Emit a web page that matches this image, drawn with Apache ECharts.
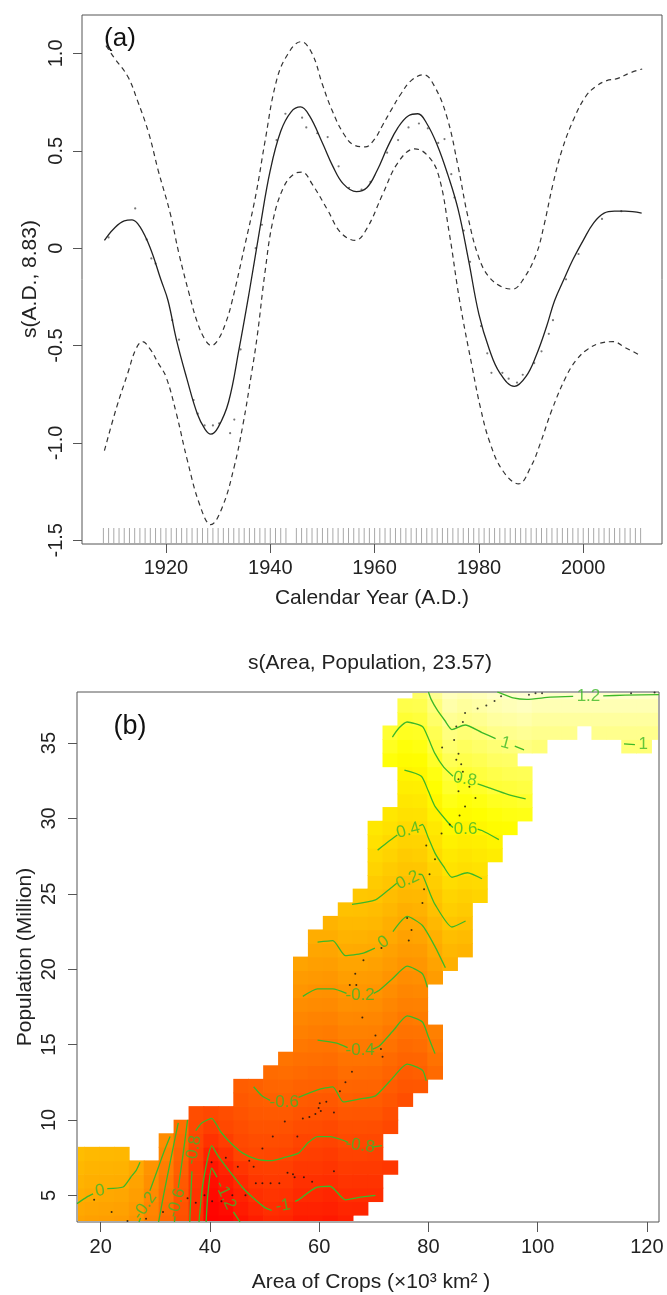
<!DOCTYPE html>
<html><head><meta charset="utf-8">
<script src="https://cdn.jsdelivr.net/npm/echarts@6/dist/echarts.min.js"></script>
<style>html,body{margin:0;padding:0;background:#fff}#c{width:667px;height:1295px}</style>
</head><body><div id="c"></div><script>
// ---------- Panel (a) data ----------
const aXTicks = [1920, 1940, 1960, 1980, 2000];
const aYTicks = [-1.5, -1.0, -0.5, 0, 0.5, 1.0];
const fitLine = [[1908.2,0.04],[1910,0.10],[1912,0.14],[1913.5,0.145],[1915,0.11],[1917,0.00],[1919,-0.16],[1920.4,-0.27],[1922,-0.47],[1924,-0.67],[1926,-0.85],[1927.5,-0.93],[1928.6,-0.955],[1930,-0.92],[1932,-0.79],[1934,-0.52],[1936,-0.22],[1938,0.10],[1940,0.40],[1942,0.60],[1944,0.70],[1945.8,0.725],[1947.5,0.68],[1950,0.54],[1952,0.42],[1954,0.33],[1956.5,0.29],[1958.5,0.31],[1960.5,0.40],[1962.5,0.52],[1964.5,0.62],[1966.5,0.68],[1968.3,0.69],[1970,0.64],[1972,0.53],[1974,0.38],[1976,0.20],[1978,-0.06],[1980,-0.34],[1982,-0.52],[1984,-0.64],[1986.8,-0.71],[1989,-0.66],[1991,-0.55],[1993,-0.40],[1994.5,-0.27],[1996.3,-0.16],[1998,-0.06],[2000,0.04],[2002,0.13],[2004,0.18],[2006,0.19],[2008,0.19],[2011.2,0.18]];
const upperBand = [[1908.5,1.04],[1910,0.98],[1912.7,0.88],[1914.5,0.76],[1916.7,0.59],[1918.5,0.40],[1920.8,0.18],[1922.5,-0.03],[1924.5,-0.24],[1926,-0.38],[1927.5,-0.47],[1928.7,-0.50],[1930,-0.47],[1931.5,-0.38],[1932.7,-0.27],[1935,0.00],[1937.2,0.27],[1939,0.55],[1941,0.84],[1943,0.98],[1945.9,1.06],[1948,1.00],[1950,0.84],[1951.8,0.71],[1954,0.59],[1956,0.53],[1958.2,0.52],[1960,0.56],[1961.5,0.63],[1963.2,0.71],[1965,0.79],[1967,0.86],[1969.4,0.89],[1971.5,0.83],[1973.9,0.67],[1976,0.42],[1977.9,0.16],[1980,-0.05],[1982,-0.15],[1984.5,-0.20],[1986.5,-0.21],[1988.5,-0.16],[1991,-0.03],[1992.5,0.12],[1994.2,0.33],[1996,0.51],[1998.3,0.67],[2000.5,0.78],[2002.4,0.83],[2004.5,0.86],[2006.5,0.87],[2009,0.90],[2011.3,0.92]];
const lowerBand = [[1908.2,-1.04],[1910.5,-0.82],[1912.7,-0.64],[1914.2,-0.52],[1915.5,-0.48],[1917,-0.52],[1918.5,-0.59],[1920,-0.66],[1922,-0.85],[1924.1,-1.09],[1926.5,-1.32],[1928.6,-1.42],[1930.8,-1.33],[1933.1,-1.12],[1934.8,-0.90],[1936.3,-0.66],[1937.5,-0.45],[1939,-0.12],[1940.5,0.14],[1942.5,0.31],[1944.5,0.38],[1946.1,0.39],[1948,0.33],[1951,0.195],[1953.5,0.08],[1956.3,0.04],[1958.5,0.10],[1961.6,0.28],[1964.5,0.44],[1967.7,0.51],[1970,0.48],[1972.2,0.38],[1974.3,0.08],[1976.3,-0.27],[1978.7,-0.61],[1980.3,-0.82],[1982,-0.99],[1984.5,-1.14],[1987.6,-1.21],[1990,-1.12],[1991.8,-1.00],[1994,-0.83],[1996.7,-0.66],[1998.8,-0.57],[2000.8,-0.52],[2003,-0.49],[2005.7,-0.48],[2008,-0.51],[2010.9,-0.55]];
const residuals = [[1909.0,0.055],[1914.1,0.204],[1916.3,0.045],[1917.2,-0.053],[1918.0,-0.079],[1921.2,-0.37],[1922.5,-0.47],[1925.3,-0.78],[1926.1,-0.85],[1927.4,-0.91],[1929.0,-0.91],[1930.2,-0.90],[1932.3,-0.95],[1933.1,-0.88],[1934.3,-0.52],[1937.2,0.0],[1938.4,0.12],[1941.2,0.555],[1942.9,0.69],[1946.1,0.67],[1946.9,0.62],[1949.0,0.59],[1951.0,0.57],[1953.1,0.42],[1955.1,0.31],[1957.5,0.30],[1959.2,0.34],[1962.4,0.49],[1964.5,0.555],[1966.5,0.62],[1968.5,0.64],[1970.2,0.615],[1972.2,0.54],[1973.4,0.56],[1974.7,0.38],[1975.3,0.26],[1977.1,0.09],[1978.3,-0.07],[1980.4,-0.40],[1981.6,-0.54],[1982.4,-0.64],[1984.5,-0.64],[1985.7,-0.67],[1987.3,-0.69],[1988.4,-0.65],[1990.6,-0.59],[1992.0,-0.53],[1993.4,-0.44],[1994.2,-0.37],[1996.7,-0.16],[1999.1,-0.03],[2003.6,0.15],[2007.3,0.19]];
const rugYears = [1908,1909,1910,1911,1912,1913,1914,1915,1916,1917,1918,1919,1920,1921,1922,1923,1924,1925,1926,1927,1928,1929,1930,1931,1932,1933,1934,1935,1936,1937,1938,1939,1940,1941,1942,1943,1945,1946,1947,1948,1949,1950,1951,1952,1953,1954,1955,1956,1957,1958,1959,1960,1961,1962,1963,1964,1965,1966,1967,1968,1969,1970,1971,1972,1973,1974,1975,1976,1977,1978,1979,1980,1981,1982,1983,1984,1985,1986,1987,1988,1989,1990,1991,1992,1993,1994,1995,1996,1997,1998,1999,2000,2001,2002,2003,2004,2005,2006,2007,2008,2009,2010,2011];

// ---------- Panel (b) data ----------
const bXTicks = [20, 40, 60, 80, 100, 120];
const bYTicks = [5, 10, 15, 20, 25, 30, 35];
const gridX = [15.66,18.39,21.12,23.86,26.59,29.32,32.05,34.78,37.52,40.25,42.98,45.71,48.44,51.18,53.91,56.64,59.37,62.10,64.84,67.57,70.30,73.03,75.76,78.50,81.23,83.96,86.69,89.42,92.16,94.89,97.62,100.35,103.08,105.82,108.55,111.28,114.01,116.74,119.48,122.21];
const gridY = [3.23,4.13,5.03,5.93,6.84,7.74,8.64,9.54,10.44,11.34,12.25,13.15,14.05,14.95,15.85,16.75,17.65,18.56,19.46,20.36,21.26,22.16,23.06,23.96,24.87,25.77,26.67,27.57,28.47,29.37,30.28,31.18,32.08,32.98,33.88,34.79,35.69,36.59,37.49,38.39];
// [row, first column, values...] ; null = no cell
const heatRows = [
[0,0,[-0.06,-0.08,-0.10,-0.11,-0.18,-0.33,-0.52,-0.72,-1.00,-1.33,-1.31,-1.20,-1.12,-1.04,-1.06,-1.14,-1.13,-1.16,-1.11]],
[1,0,[-0.02,-0.04,-0.06,-0.07,-0.14,-0.30,-0.49,-0.70,-0.98,-1.31,-1.26,-1.14,-1.05,-0.99,-1.01,-1.08,-1.08,-1.10,-1.05,-1.06]],
[2,0,[0.03,0.00,-0.02,-0.03,-0.10,-0.26,-0.45,-0.67,-0.95,-1.28,-1.20,-1.08,-0.98,-0.94,-0.96,-1.02,-1.02,-1.05,-1.00,-1.00,-1.00]],
[3,0,[0.07,0.04,0.03,0.02,-0.06,-0.22,-0.41,-0.64,-0.92,-1.24,-1.14,-1.02,-0.92,-0.89,-0.90,-0.97,-0.97,-0.99,-0.94,-0.95,-0.95]],
[4,0,[0.11,0.08,0.07,0.06,-0.01,-0.18,-0.36,-0.60,-0.88,-1.18,-1.07,-0.93,-0.85,-0.84,-0.85,-0.91,-0.91,-0.93,-0.88,-0.89,-0.89,-0.92]],
[5,0,[0.15,0.12,0.11,0.10,null,null,-0.30,-0.56,-0.84,-1.08,-0.97,-0.81,-0.78,-0.79,-0.80,-0.85,-0.86,-0.88,-0.83,-0.83,-0.84]],
[6,6,[-0.24,-0.52,-0.80,-0.96,-0.87,-0.77,-0.74,-0.74,-0.75,-0.80,-0.80,-0.82,-0.77,-0.78,-0.78]],
[7,7,[-0.48,-0.77,-0.86,-0.78,-0.73,-0.69,-0.69,-0.70,-0.74,-0.75,-0.77,-0.72,-0.72,-0.73,-0.78]],
[8,8,[-0.74,-0.78,-0.74,-0.69,-0.65,-0.64,-0.64,-0.68,-0.69,-0.71,-0.66,-0.67,-0.67,-0.73]],
[9,11,[-0.65,-0.61,-0.60,-0.59,-0.63,-0.64,-0.65,-0.60,-0.61,-0.62,-0.67,-0.73]],
[10,11,[-0.61,-0.59,-0.55,-0.54,-0.57,-0.58,-0.60,-0.55,-0.56,-0.56,-0.62,-0.67,-0.66]],
[11,13,[-0.50,-0.49,-0.51,-0.53,-0.54,-0.49,-0.50,-0.51,-0.56,-0.62,-0.60,-0.51]],
[12,14,[-0.43,-0.46,-0.47,-0.49,-0.44,-0.44,-0.45,-0.51,-0.56,-0.55,-0.45]],
[13,15,[-0.40,-0.42,-0.43,-0.38,-0.39,-0.40,-0.45,-0.51,-0.49,-0.39]],
[14,15,[-0.34,-0.36,-0.38,-0.33,-0.33,-0.34,-0.40,-0.45,-0.44,-0.34]],
[15,15,[-0.29,-0.31,-0.32,-0.27,-0.28,-0.29,-0.34,-0.40,-0.38]],
[16,15,[-0.23,-0.25,-0.26,-0.21,-0.22,-0.23,-0.29,-0.34,-0.33]],
[17,15,[-0.17,-0.20,-0.21,-0.16,-0.16,-0.18,-0.23,-0.29,-0.27]],
[18,15,[-0.12,-0.14,-0.15,-0.10,-0.11,-0.12,-0.18,-0.23,-0.22,-0.11]],
[19,15,[-0.06,-0.09,-0.10,-0.05,-0.05,-0.07,-0.12,-0.18,-0.16,-0.06,0.05]],
[20,16,[-0.03,-0.04,0.01,0.00,-0.01,-0.07,-0.12,-0.11,0.00,0.10,0.08]],
[21,16,[0.02,0.02,0.07,0.06,0.04,-0.01,-0.07,-0.05,0.05,0.16,0.13]],
[22,17,[0.07,0.12,0.12,0.10,0.04,-0.01,0.00,0.11,0.22,0.19]],
[23,18,[0.18,0.17,0.15,0.10,0.04,0.06,0.17,0.28,0.25]],
[24,19,[0.23,0.21,0.15,0.10,0.11,0.22,0.33,0.30,0.33]],
[25,20,[0.26,0.21,0.15,0.17,0.28,0.39,0.36,0.38]],
[26,20,[0.32,0.26,0.21,0.22,0.33,0.45,0.42,0.44]],
[27,20,[0.37,0.32,0.26,0.28,0.39,0.50,0.47,0.50,0.53]],
[28,20,[0.43,0.37,0.32,0.33,0.45,0.56,0.53,0.55,0.59]],
[29,20,[0.48,0.43,0.37,0.39,0.50,0.62,0.58,0.61,0.65,0.66]],
[30,21,[0.48,0.43,0.44,0.56,0.67,0.64,0.67,0.70,0.72,0.73]],
[31,22,[0.48,0.50,0.61,0.73,0.70,0.72,0.76,0.77,0.79]],
[32,22,[0.54,0.55,0.67,0.79,0.75,0.78,0.82,0.83,0.85]],
[33,22,[0.59,0.61,0.72,0.84,0.81,0.84,0.87,0.89,0.90]],
[34,21,[0.70,0.65,0.66,0.78,0.90,0.87,0.89,0.93,0.94]],
[35,21,[0.76,0.70,0.72,0.84,0.96,0.92,0.95,0.98,1.00,1.02,0.99,null,null,null,null,null,0.99,0.99]],
[36,21,[0.81,0.76,0.77,0.89,1.01,0.98,1.00,1.04,1.05,1.07,1.05,1.05,1.05,null,1.05,1.05,1.05,1.05,1.05]],
[37,22,[0.81,0.83,0.95,1.07,1.04,1.06,1.10,1.11,1.13,1.10,1.10,1.10,1.10,1.10,1.10,1.10,1.10,1.10]],
[38,22,[0.87,0.88,1.00,1.13,1.09,1.12,1.15,1.17,1.19,1.16,1.16,1.16,1.16,1.16,1.16,1.16,1.16,1.16]],
[39,23,[0.94,1.06,1.18,1.15,1.17,1.21,1.22,1.24,1.22,1.22,1.22,1.22,1.22,1.22,1.22,1.22,1.22]]
];
const heatColors = ['#FF0000','#FF2B00','#FF5500','#FF8000','#FFAA00','#FFD500','#FFFF00','#FFFF80','#FFFFF8'];
const contourLines = [
[[92.6,38.39],[93.3,38.3],[95.5,38.0],[98.0,37.9],[102.3,38.05],[106.5,38.1]],
[[112.0,38.13],[116,38.18],[122.21,38.22]],
[[80.0,38.39],[80.5,37.9],[81.6,37.2],[83.0,36.5],[84.3,35.9],[86.7,36.2],[89.8,35.7],[92.3,35.3]],
[[95.8,34.8],[97.5,34.55]],
[[115.8,34.95],[117.8,34.9]],
[[73.4,35.4],[74.6,36.0],[76.1,36.4],[78.9,36.1],[80.0,35.3],[81.2,34.3],[82.8,33.4],[84.5,32.8]],
[[89.0,32.3],[90.6,32.1],[94.5,31.6],[97.8,31.3]],
[[75.6,33.2],[78.7,32.8],[80.0,31.8],[81.2,30.8],[83.9,29.6],[84.5,29.4]],
[[89.0,29.3],[89.8,29.2],[92.9,28.6]],
[[70.7,27.9],[72.8,28.5],[74.3,28.9]],
[[78.3,29.5],[78.9,29.6],[80.0,28.7],[81.2,27.7],[82.8,26.8],[84.3,26.1],[87.1,26.4],[89.8,26.0]],
[[66.0,24.3],[70.3,24.6],[72.5,25.2],[74.2,25.7]],
[[78.2,26.3],[78.9,26.25],[80.1,25.2],[81.2,24.3],[84.3,22.8],[86.8,23.2]],
[[59.7,21.8],[62.5,21.9],[64.8,20.9],[67.9,21.05],[70.2,21.4]],
[[73.5,22.5],[76.1,23.5],[78.9,22.9],[81.2,21.5],[83.1,20.1]],
[[57.0,18.2],[59.7,18.7],[62.5,18.7],[65.0,18.4]],
[[70.0,18.4],[71.0,18.6],[73.5,19.4],[76.1,20.2],[78.9,19.7],[79.8,18.8]],
[[59.7,15.3],[63.2,15.1],[65.2,14.8]],
[[69.8,14.7],[71.0,14.9],[73.5,15.9],[76.1,16.9],[78.9,16.5],[80.0,15.5],[81.2,14.4]],
[[48.0,12.2],[49.5,11.6],[51.0,11.3]],
[[56.2,11.5],[59.7,12.0],[62.5,12.2],[64.4,11.2],[67.5,11.4],[70.3,11.6],[73.0,12.6],[76.1,13.7],[78.9,13.3],[79.6,12.6]],
[[36.3,3.23],[36.5,5.0],[36.7,6.6]],
[[37.4,9.3],[38.5,9.8],[40.3,10.1],[42.0,9.2],[44.0,8.4],[46.0,7.8],[48.5,7.4],[51.1,7.3],[53.5,7.5],[56.2,7.8],[58.0,8.5],[59.7,8.9],[62.0,8.9],[64.8,8.6],[65.3,8.5]],
[[69.7,8.2],[71.5,8.3]],
[[38.0,3.23],[38.6,5.5],[39.5,7.3],[40.3,8.3],[41.5,7.6],[44.0,6.4],[46.0,5.5],[48.0,4.8],[50.0,4.2],[51.3,4.0]],
[[55.6,4.6],[56.2,4.7],[59.3,5.5],[62.0,5.6],[64.8,4.7],[67.9,4.9],[70.3,5.0]],
[[39.3,3.23],[39.6,5.0],[40.3,6.8],[41.3,6.2]],
[[44.3,3.9],[45.5,3.23]],
[[33.5,3.23],[33.6,3.6]],
[[34.2,5.5],[34.8,7.0],[35.4,8.6],[35.9,10.0]],
[[30.6,3.23],[31.5,5.0],[32.5,6.8],[33.5,8.6],[34.2,9.8]],
[[27.0,3.23],[27.3,3.5]],
[[29.0,5.3],[30.5,6.8],[31.6,7.9],[32.7,8.9]],
[[15.66,4.45],[17.5,4.9],[18.6,5.1]],
[[21.2,5.45],[24.1,5.55],[25.5,6.2],[26.5,6.66],[27.2,7.2]]
];
// [text, x, y, rotation in degrees]
const contourLabels = [
['1.2',109.3,38.1,0],['1',94.1,35.0,-15],['1',119.3,34.9,0],['0.8',86.7,32.6,-10],['0.6',86.8,29.3,0],
['0.4',76.3,29.2,15],['0.2',76.2,25.9,25],['0',71.8,21.8,35],['-0.2',67.5,18.3,0],['-0.4',67.5,14.6,0],
['-0.6',53.6,11.2,0],['-0.8',67.5,8.3,-8],['-1',53.4,4.3,10],['-1.2',42.8,5.0,-65],['-0.8',37.0,8.0,80],
['-0.6',33.9,4.5,75],['-0.2',28.1,4.3,55],['0',19.9,5.3,10]
];
const bPoints = [[18.8,4.7],[22.0,3.9],[24.9,3.3],[28.3,3.45],[31.4,3.9],[35.9,4.8],[37.4,4.5],[39.0,5.0],[40.3,7.2],[40.4,4.6],[42.1,4.6],[42.9,7.5],[44.1,5.0],[45.1,6.9],[46.5,5.0],[47.2,7.3],[48.0,6.9],[48.4,5.8],[49.6,5.8],[49.6,8.1],[51.1,5.8],[51.5,8.9],[52.7,5.8],[53.7,9.9],[54.2,6.5],[55.2,6.4],[55.5,6.2],[56.0,8.9],[57.0,10.1],[57.2,6.2],[58.2,10.2],[58.7,5.9],[59.3,10.4],[59.9,10.8],[60.1,11.1],[60.3,10.6],[61.3,11.2],[62.7,10.5],[62.7,6.6],[63.8,11.9],[64.8,12.5],[66.0,13.2],[67.9,16.8],[70.3,15.6],[71.3,14.7],[71.6,14.2],[65.6,18.95],[66.8,18.95],[66.6,19.7],[68.1,20.6],[71.4,21.4],[76.4,21.9],[76.9,22.6],[76.1,23.4],[78.9,24.4],[79.2,25.3],[80.2,26.3],[81.2,27.3],[79.6,28.2],[82.4,29.0],[83.9,29.6],[85.7,30.2],[86.7,30.8],[88.6,31.35],[85.5,31.8],[87.5,32.1],[85.5,32.6],[86.3,33.1],[86.0,33.6],[85.1,33.9],[85.5,34.3],[82.5,34.7],[84.7,35.2],[85.1,36.1],[86.3,36.4],[86.7,37.0],[89.0,37.3],[90.6,37.5],[92.1,37.8],[93.3,38.1],[98.4,38.2],[99.6,38.3],[100.8,38.3],[117.1,38.3],[121.4,38.35]];

// ---------- build ----------
const FONT = 'Liberation Sans, Arial, sans-serif';
const heatData = [];
heatRows.forEach(([r, c0, vals]) => {
  vals.forEach((v, k) => { if (v !== null) heatData.push([gridX[c0 + k], gridY[r], v]); });
});
const HX = (gridX[1] - gridX[0]) / 2, HY = (gridY[1] - gridY[0]) / 2;
const axisCol = '#555';
function fmtA(v){ return v === 0 ? '0' : v.toFixed(1); }
function fmtPlain(v){ return String(v); }

const series = [];
// panel a
series.push({type:'line', xAxisIndex:0, yAxisIndex:0, data: upperBand, smooth:0.4, showSymbol:false, silent:true,
  lineStyle:{color:'#333', width:1.2, type:[5,4]}});
series.push({type:'line', xAxisIndex:0, yAxisIndex:0, data: lowerBand, smooth:0.4, showSymbol:false, silent:true,
  lineStyle:{color:'#333', width:1.2, type:[5,4]}});
series.push({type:'line', xAxisIndex:0, yAxisIndex:0, data: fitLine, smooth:0.4, showSymbol:false, silent:true,
  lineStyle:{color:'#222', width:1.3}});
series.push({type:'scatter', xAxisIndex:0, yAxisIndex:0, data: residuals, symbolSize:2.2, silent:true,
  itemStyle:{color:'#555'}});
series.push({type:'custom', xAxisIndex:0, yAxisIndex:0, data: rugYears.map(y => [y]), silent:true,
  encode:{x:0},
  renderItem: function(params, api){
    const p = api.coord([api.value(0), -1.519]);
    return {type:'line', shape:{x1:p[0], y1:p[1], x2:p[0], y2:p[1]-16}, style:{stroke:'#a8a8a8', lineWidth:1}};
  }});
// panel b heat
const heatIndex = series.length;
series.push({type:'custom', xAxisIndex:1, yAxisIndex:1, data: heatData, silent:true,
  encode:{x:0, y:1},
  renderItem: function(params, api){
    const x = api.value(0), y = api.value(1);
    const p1 = api.coord([x - HX, y + HY]);
    const p2 = api.coord([x + HX, y - HY]);
    const cs = params.coordSys;
    const rect = echarts.graphic.clipRectByRect(
      {x: p1[0] - 0.4, y: p1[1] - 0.4, width: p2[0] - p1[0] + 0.8, height: p2[1] - p1[1] + 0.8},
      {x: cs.x + 1, y: cs.y + 1, width: cs.width - 2, height: cs.height - 2});
    return rect && {type:'rect', shape: rect, style:{fill: api.visual('color')}};
  }});
contourLines.forEach(seg => {
  series.push({type:'line', xAxisIndex:1, yAxisIndex:1, data: seg, showSymbol:false, silent:true, smooth:0.2,
    lineStyle:{color:'#3cb828', width:1.3}, z:3});
});
series.push({type:'scatter', xAxisIndex:1, yAxisIndex:1, silent:true, symbolSize:0, z:4,
  data: contourLabels.map(l => ({name:l[0], value:[l[1], l[2]], label:{rotate:l[3]}})),
  label:{show:true, position:'inside', formatter:'{b}', color:'#3cb828', fontSize:17, fontFamily:FONT}});
series.push({type:'scatter', xAxisIndex:1, yAxisIndex:1, data: bPoints, symbolSize:2, silent:true, z:5,
  itemStyle:{color:'#111'}});

const option = {
  animation:false,
  backgroundColor:'#fff',
  grid:[
    {left:82, top:15, width:580, height:529, show:true, borderColor:axisCol, borderWidth:1, backgroundColor:'transparent'},
    {left:77, top:692, width:582, height:530, show:true, borderColor:axisCol, borderWidth:1, backgroundColor:'transparent'}
  ],
  xAxis:[
    {type:'value', gridIndex:0, min:1903.9, max:2015.1, splitLine:{show:false}, axisLine:{show:false, onZero:false},
     axisTick:{show:true, length:9, lineStyle:{color:axisCol}, customValues:aXTicks},
     axisLabel:{customValues:aXTicks, fontSize:20, color:'#222', margin:14, fontFamily:FONT, formatter:fmtPlain}},
    {type:'value', gridIndex:1, min:15.66, max:122.21, splitLine:{show:false}, axisLine:{show:false, onZero:false},
     axisTick:{show:true, length:10, lineStyle:{color:axisCol}, customValues:bXTicks},
     axisLabel:{customValues:bXTicks, fontSize:20, color:'#222', margin:15, fontFamily:FONT, formatter:fmtPlain}}
  ],
  yAxis:[
    {type:'value', gridIndex:0, min:-1.519, max:1.197, splitLine:{show:false}, axisLine:{show:false, onZero:false},
     axisTick:{show:true, length:9, lineStyle:{color:axisCol}, customValues:aYTicks},
     axisLabel:{customValues:aYTicks, rotate:90, fontSize:20, color:'#222', margin:16, fontFamily:FONT, formatter:fmtA}},
    {type:'value', gridIndex:1, min:3.23, max:38.39, splitLine:{show:false}, axisLine:{show:false, onZero:false},
     axisTick:{show:true, length:9, lineStyle:{color:axisCol}, customValues:bYTicks},
     axisLabel:{customValues:bYTicks, rotate:90, fontSize:20, color:'#222', margin:18, fontFamily:FONT, formatter:fmtPlain}}
  ],
  visualMap:[{type:'continuous', show:false, seriesIndex:heatIndex, dimension:2, min:-1.35, max:1.35,
    inRange:{color:heatColors}}],
  graphic:[
    {type:'text', x:30, y:279, rotation:Math.PI/2, style:{text:'s(A.D., 8.83)', font:'21px '+FONT, fill:'#222', textAlign:'center', textVerticalAlign:'middle'}},
    {type:'text', x:372, y:598, style:{text:'Calendar Year (A.D.)', font:'21px '+FONT, fill:'#222', textAlign:'center', textVerticalAlign:'middle'}},
    {type:'text', x:120, y:39, z:10, style:{text:'(a)', font:'26px '+FONT, fill:'#111', textAlign:'center', textVerticalAlign:'middle'}},
    {type:'text', x:370, y:663, style:{text:'s(Area, Population, 23.57)', font:'21px '+FONT, fill:'#222', textAlign:'center', textVerticalAlign:'middle'}},
    {type:'text', x:130, y:727, z:10, style:{text:'(b)', font:'27px '+FONT, fill:'#111', textAlign:'center', textVerticalAlign:'middle'}},
    {type:'text', x:25, y:957, rotation:Math.PI/2, style:{text:'Population (Million)', font:'21px '+FONT, fill:'#222', textAlign:'center', textVerticalAlign:'middle'}},
    {type:'text', x:371, y:1282, style:{text:'Area of Crops (×10³ km² )', font:'21px '+FONT, fill:'#222', textAlign:'center', textVerticalAlign:'middle'}}
  ],
  series: series
};
const chart = echarts.init(document.getElementById('c'), null, {renderer:'canvas'});
chart.setOption(option);
</script></body></html>
